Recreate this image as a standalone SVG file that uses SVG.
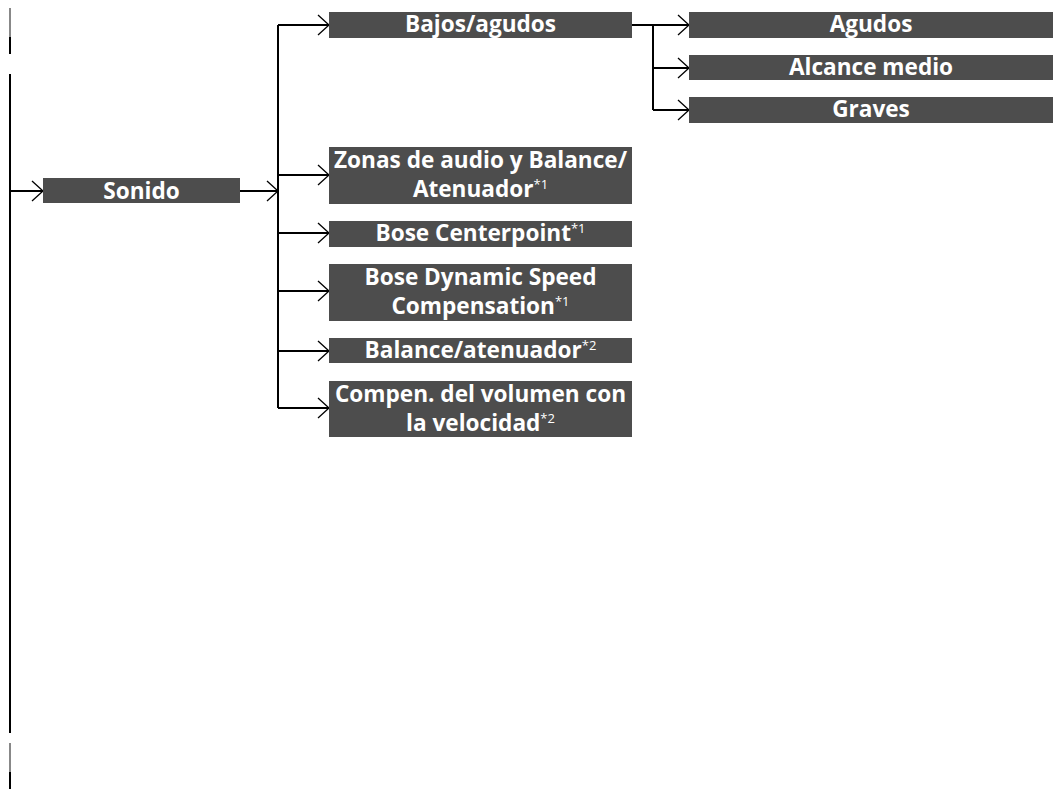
<svg xmlns="http://www.w3.org/2000/svg" width="1054" height="789" viewBox="0 0 1054 789">
<defs>
<style>
.box{fill:#4d4d4d}
.t{font-family:"Open Sans","Noto Sans",sans-serif;font-weight:bold;font-size:22.6px;fill:#fff;text-anchor:middle}
.s{font-weight:normal;font-size:13px}
.ln{fill:none;stroke:#000;stroke-width:2}
</style>
<marker id="ah" markerUnits="userSpaceOnUse" markerWidth="14" markerHeight="22" refX="12" refY="11" orient="auto" viewBox="0 0 14 22">
<path d="M1,1 L12,11 L1,21" fill="none" stroke="#000" stroke-width="1.3"/>
</marker>
</defs>
<rect width="1054" height="789" fill="#fff"/>
<g id="sidebar">
<line x1="10" y1="8" x2="10" y2="37" stroke="#888" stroke-width="2"/>
<line x1="10" y1="37" x2="10" y2="54" stroke="#000" stroke-width="2"/>
<line x1="10" y1="74" x2="10" y2="733" stroke="#000" stroke-width="2"/>
<line x1="10" y1="743" x2="10" y2="772" stroke="#888" stroke-width="2"/>
<line x1="10" y1="772" x2="10" y2="789" stroke="#000" stroke-width="2"/>
</g>
<g id="connectors">
<path class="ln" d="M10,191 H43" marker-end="url(#ah)"/>
<path class="ln" d="M240,191 H278" marker-end="url(#ah)"/>
<path class="ln" d="M278,408 V25"/>
<path class="ln" d="M278,25 H329" marker-end="url(#ah)"/>
<path class="ln" d="M278,175 H329" marker-end="url(#ah)"/>
<path class="ln" d="M278,233 H329" marker-end="url(#ah)"/>
<path class="ln" d="M278,291 H329" marker-end="url(#ah)"/>
<path class="ln" d="M278,351 H329" marker-end="url(#ah)"/>
<path class="ln" d="M278,408 H329" marker-end="url(#ah)"/>
<path class="ln" d="M632,25 H689" marker-end="url(#ah)"/>
<path class="ln" d="M653,25 V110"/>
<path class="ln" d="M653,68 H689" marker-end="url(#ah)"/>
<path class="ln" d="M653,110 H689" marker-end="url(#ah)"/>
</g>
<g id="sonido"><rect class="box" x="43" y="178" width="197" height="25"/><text class="t" x="141.5" y="199">Sonido</text></g>
<g id="bajos"><rect class="box" x="329" y="12" width="303" height="26"/><text class="t" x="480.5" y="32">Bajos/agudos</text></g>
<g id="agudos"><rect class="box" x="689" y="12" width="364" height="26"/><text class="t" x="871" y="32">Agudos</text></g>
<g id="alcance"><rect class="box" x="689" y="55" width="364" height="25"/><text class="t" x="871" y="75">Alcance medio</text></g>
<g id="graves"><rect class="box" x="689" y="97" width="364" height="26"/><text class="t" x="871" y="117">Graves</text></g>
<g id="zonas"><rect class="box" x="329" y="147" width="303" height="57"/><text class="t" x="480.5" y="168">Zonas de audio y Balance/</text><text class="t" x="480.5" y="197">Atenuador<tspan class="s" dy="-8">*1</tspan></text></g>
<g id="centerpoint"><rect class="box" x="329" y="221" width="303" height="26"/><text class="t" x="480.5" y="241">Bose Centerpoint<tspan class="s" dy="-8">*1</tspan></text></g>
<g id="dynamic"><rect class="box" x="329" y="264" width="303" height="57"/><text class="t" x="480.5" y="285">Bose Dynamic Speed</text><text class="t" x="480.5" y="314">Compensation<tspan class="s" dy="-8">*1</tspan></text></g>
<g id="balance"><rect class="box" x="329" y="338" width="303" height="25"/><text class="t" x="480.5" y="358">Balance/atenuador<tspan class="s" dy="-8">*2</tspan></text></g>
<g id="compen"><rect class="box" x="329" y="381" width="303" height="56"/><text class="t" x="480.5" y="402">Compen. del volumen con</text><text class="t" x="480.5" y="431">la velocidad<tspan class="s" dy="-8">*2</tspan></text></g>
</svg>
